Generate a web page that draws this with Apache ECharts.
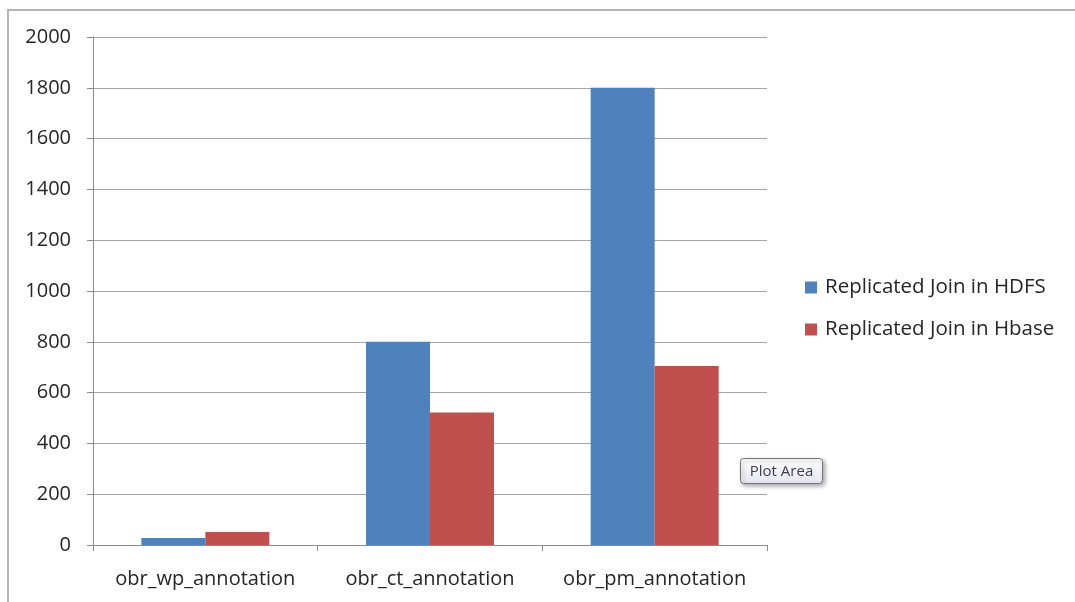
<!DOCTYPE html>
<html>
<head>
<meta charset="utf-8">
<style>
  html, body { margin: 0; padding: 0; background: #fff; }
  #chart { width: 1075px; height: 602px; }
</style>
<script src="https://cdn.jsdelivr.net/npm/echarts@6/dist/echarts.min.js"></script>
</head>
<body>
<div id="chart"></div>
<script>
// Join run times per annotation table
const categories = ['obr_wp_annotation', 'obr_ct_annotation', 'obr_pm_annotation'];
const hdfsValues = [28, 800, 1800];
const hbaseValues = [51, 522, 705];
const seriesNames = ['Replicated Join in HDFS', 'Replicated Join in Hbase'];

const FONT = '"Open Sans", "Noto Sans", sans-serif';
const chart = echarts.init(document.getElementById('chart'), null, { renderer: 'canvas' });

chart.setOption({
  animation: false,
  backgroundColor: '#ffffff',
  grid: { left: 93, right: 308, top: 37, bottom: 57, containLabel: false },
  legend: {
    orient: 'vertical',
    left: 805,
    top: 277,
    padding: 0,
    itemWidth: 12,
    itemHeight: 12,
    itemGap: 21,
    icon: 'rect',
    textStyle: { fontFamily: FONT, fontSize: 20.5, color: '#262626', padding: [0, 0, 0, 3] },
    data: seriesNames
  },
  xAxis: {
    type: 'category',
    data: categories,
    axisLine: { lineStyle: { color: '#8c8c8c', width: 1 } },
    axisTick: { show: true, interval: 0, alignWithLabel: false, length: 6, lineStyle: { color: '#8c8c8c' } },
    axisLabel: { interval: 0, fontFamily: FONT, fontSize: 20, color: '#262626', margin: 24 }
  },
  yAxis: {
    type: 'value',
    min: 0,
    max: 2000,
    interval: 200,
    axisLine: { show: true, lineStyle: { color: '#8c8c8c', width: 1 } },
    axisTick: { show: true, length: 6, lineStyle: { color: '#8c8c8c' } },
    splitLine: { lineStyle: { color: '#a6a6a6', width: 1 } },
    axisLabel: {
      fontFamily: FONT, fontSize: 20, color: '#262626', margin: 22,
      formatter: (v) => String(v)
    }
  },
  series: [
    {
      name: seriesNames[0],
      type: 'bar',
      data: hdfsValues,
      barWidth: 64,
      barGap: '0%',
      itemStyle: { color: '#4f81bd' }
    },
    {
      name: seriesNames[1],
      type: 'bar',
      data: hbaseValues,
      barWidth: 64,
      barGap: '0%',
      itemStyle: { color: '#c0504d' }
    }
  ],
  graphic: [
    {
      type: 'rect',
      shape: { x: 8, y: 10, width: 1100, height: 700 },
      style: { fill: 'none', stroke: '#b3b3b3', lineWidth: 2 },
      silent: true
    },
    {
      type: 'group',
      left: 740,
      top: 458,
      children: [
        {
          type: 'rect',
          shape: { x: 0, y: 0, width: 82, height: 25, r: 3 },
          style: {
            fill: new echarts.graphic.LinearGradient(0, 0, 0, 1, [
              { offset: 0, color: '#ffffff' },
              { offset: 1, color: '#e4e5f0' }
            ]),
            stroke: '#767676',
            lineWidth: 1,
            shadowBlur: 4,
            shadowOffsetX: 2,
            shadowOffsetY: 2,
            shadowColor: 'rgba(0,0,0,0.35)'
          }
        },
        {
          type: 'text',
          style: {
            x: 41,
            y: 13,
            text: 'Plot Area',
            align: 'center',
            verticalAlign: 'middle',
            fontFamily: FONT,
            fontSize: 15,
            fill: '#3c3c58'
          }
        }
      ]
    }
  ]
});
</script>
</body>
</html>
